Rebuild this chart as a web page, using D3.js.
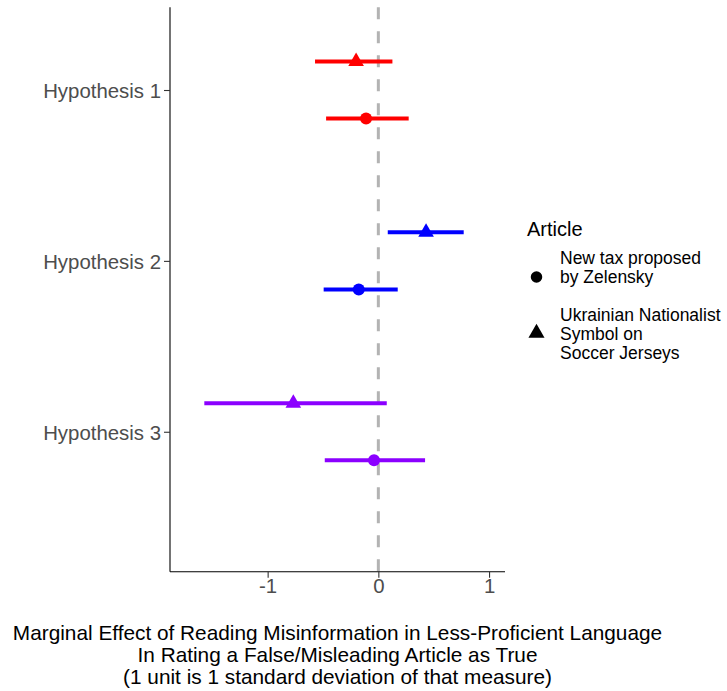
<!DOCTYPE html>
<html>
<head>
<meta charset="utf-8">
<script src="https://cdn.jsdelivr.net/npm/d3@7"></script>
<style>
  html, body { margin: 0; padding: 0; background: #ffffff; }
  svg { display: block; font-family: "Liberation Sans", Arial, sans-serif; }
</style>
</head>
<body>
<svg id="chart" width="727" height="691"></svg>
<script>
// ---- Data ----
const hypotheses = ["Hypothesis 1", "Hypothesis 2", "Hypothesis 3"];
const hypothesisColors = ["#FF0000", "#0000FF", "#8B00FF"];
const articles = ["New tax proposed by Zelensky", "Ukrainian Nationalist Symbol on Soccer Jerseys"];
const articleLegendLines = [["New tax proposed", "by Zelensky"], ["Ukrainian Nationalist", "Symbol on", "Soccer Jerseys"]];
const articleShapes = ["circle", "triangle"];

// Article 1: New tax proposed by Zelensky (circle)
const taxEstimate = [-0.111, -0.177, -0.039];
const taxLower    = [-0.472, -0.494, -0.484];
const taxUpper    = [ 0.274,  0.175,  0.422];

// Article 2: Ukrainian Nationalist Symbol on Soccer Jerseys (triangle)
const jerseyEstimate = [-0.201,  0.431, -0.768];
const jerseyLower    = [-0.572,  0.085, -1.572];
const jerseyUpper    = [ 0.127,  0.771,  0.076];

const xTicks = [-1, 0, 1];
const xTitleLines = [
  "Marginal Effect of Reading Misinformation in Less-Proficient Language",
  "In Rating a False/Misleading Article as True",
  "(1 unit is 1 standard deviation of that measure)"
];

// ---- Build rows ----
const rows = [];
hypotheses.forEach((h, i) => {
  rows.push({ hyp: h, hi: i, article: articles[0], ai: 0, est: taxEstimate[i], lo: taxLower[i], hi95: taxUpper[i] });
  rows.push({ hyp: h, hi: i, article: articles[1], ai: 1, est: jerseyEstimate[i], lo: jerseyLower[i], hi95: jerseyUpper[i] });
});

// ---- Layout ----
const svg = d3.select("#chart");
const plot = { left: 170, right: 505, top: 7.3, bottom: 571.7 };

const x = d3.scaleLinear().domain([-1.882, 1.144]).range([plot.left, plot.right]);
const yPos = d3.scaleLinear().domain([0.516, 3.819]).range([plot.top, plot.bottom]);
const dodge = 0.167;
const rowY = d => yPos(d.hi + 1 + (d.ai === 1 ? -dodge : dodge));

// zero reference line
svg.append("line")
  .attr("x1", x(0)).attr("x2", x(0))
  .attr("y1", plot.top).attr("y2", plot.bottom)
  .attr("stroke", "#B3B3B3").attr("stroke-width", 3)
  .attr("stroke-dasharray", "12,12");

// error bars
svg.append("g").selectAll("line").data(rows).join("line")
  .attr("x1", d => x(d.lo)).attr("x2", d => x(d.hi95))
  .attr("y1", rowY).attr("y2", rowY)
  .attr("stroke", d => hypothesisColors[d.hi])
  .attr("stroke-width", 4);

// points
const circleSym = d3.symbol().type(d3.symbolCircle).size(Math.PI * 36);
const triSym = d3.symbol().type(d3.symbolTriangle).size(106);
svg.append("g").selectAll("path").data(rows).join("path")
  .attr("d", d => articleShapes[d.ai] === "circle" ? circleSym() : triSym())
  .attr("transform", d => `translate(${x(d.est)},${rowY(d)})`)
  .attr("fill", d => hypothesisColors[d.hi]);

// axes
const xAxis = d3.axisBottom(x).tickValues(xTicks).tickSize(6).tickPadding(4)
  .tickFormat(d => d < 0 ? "-" + Math.abs(d) : String(d));
const gx = svg.append("g").attr("transform", `translate(0,${plot.bottom})`).call(xAxis);
gx.select(".domain").attr("d", `M${plot.left},0H${plot.right}`).attr("stroke", "#000").attr("stroke-width", 1.1);
gx.selectAll(".tick line").attr("stroke", "#333").attr("stroke-width", 1.1);
gx.selectAll(".tick text").attr("fill", "#4D4D4D").attr("font-size", 20.4)
  .attr("font-family", "Liberation Sans, Arial, sans-serif").attr("dy", null).attr("y", 21);

const yAxisScale = d3.scaleOrdinal().domain(hypotheses).range(hypotheses.map((h, i) => yPos(i + 1)));
const yAxis = d3.axisLeft(yAxisScale).tickSize(6).tickPadding(3);
const gy = svg.append("g").attr("transform", `translate(${plot.left},0)`).call(yAxis);
gy.select(".domain").attr("d", `M0,${plot.top}V${plot.bottom}`).attr("stroke", "#000").attr("stroke-width", 1.1);
gy.selectAll(".tick line").attr("stroke", "#333").attr("stroke-width", 1.1);
gy.selectAll(".tick text").attr("fill", "#4D4D4D").attr("font-size", 20.4)
  .attr("font-family", "Liberation Sans, Arial, sans-serif").attr("dy", "0.36em");

// x axis title
const titleBaselines = [639.5, 661.5, 683.5];
svg.append("g").selectAll("text").data(xTitleLines).join("text")
  .attr("x", (plot.left + plot.right) / 2)
  .attr("y", (d, i) => titleBaselines[i])
  .attr("text-anchor", "middle")
  .attr("font-family", "Liberation Sans, Arial, sans-serif")
  .attr("font-size", 20.8)
  .attr("fill", "#000")
  .text(d => d);

// legend
const lg = svg.append("g");
lg.append("text").attr("x", 527).attr("y", 235.5).attr("font-size", 20).attr("fill", "#000").text("Article");
const legendKeyY = [277, 333];
const legendLineStart = [258, 314.5];
const legendLineGap = 19;
articles.forEach((a, i) => {
  lg.append("path")
    .attr("d", i === 0 ? d3.symbol().type(d3.symbolCircle).size(Math.PI * 33)() : d3.symbol().type(d3.symbolTriangle).size(112)())
    .attr("transform", `translate(536.5,${legendKeyY[i]})`)
    .attr("fill", "#000");
  articleLegendLines[i].forEach((line, j) => {
    lg.append("text")
      .attr("x", 560)
      .attr("y", legendLineStart[i] + j * legendLineGap)
      .attr("dy", "0.36em")
      .attr("font-size", 17.5)
      .attr("fill", "#000")
      .text(line);
  });
});
</script>
</body>
</html>
